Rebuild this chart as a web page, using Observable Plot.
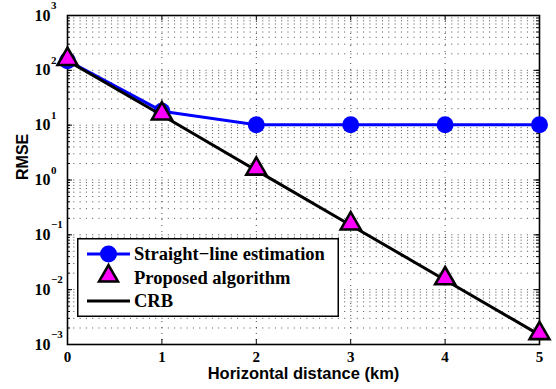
<!DOCTYPE html>
<html><head><meta charset="utf-8">
<script src="https://cdn.jsdelivr.net/npm/d3@7"></script>
<script src="https://cdn.jsdelivr.net/npm/@observablehq/plot@0.6"></script>
<style>
body{margin:0;background:#fff}
#wrap{position:relative;width:556px;height:389px}
#legend{position:absolute;left:77px;top:238px}
.serif text{font-family:"Liberation Serif","Times New Roman",serif}
</style>
</head><body><div id="wrap"></div>
<script>
const distances = [0, 1, 2, 3, 4, 5];
const straightLine = [150, 18, 10.2, 10.2, 10.2, 10.2];
const proposed = [150, 15.2, 1.5, 0.15, 0.015, 0.0015];
const crb = [150, 15.2, 1.5, 0.15, 0.015, 0.0015];
const xTicks = [0, 1, 2, 3, 4, 5];
const yDecades = [-3, -2, -1, 0, 1, 2, 3];
const seriesNames = ["Straight\u2212line estimation", "Proposed algorithm", "CRB"];
const xTitle = "Horizontal distance (km)";
const yTitle = "RMSE";

const rows = distances.map((d, i) => ({x: d, s: straightLine[i], p: proposed[i], c: crb[i]}));
const minor = [];
for (const d of yDecades.slice(0, -1)) for (let k = 1; k <= 9; k++) minor.push(k * 10 ** d);
minor.push(10 ** yDecades[yDecades.length - 1]);
const majors = yDecades.map(d => 10 ** d);
const serif = "Liberation Serif";
const sans = "Liberation Sans";
const tl = 0.053, tm = 0.032; // tick lengths in x units
const tf = 1.234; // tick length factor in y (log)

const plot = Plot.plot({
  width: 556, height: 389,
  marginLeft: 67, marginRight: 17, marginTop: 15, marginBottom: 45,
  x: {domain: [0, 5], axis: null},
  y: {type: "log", domain: [1e-3, 1e3], axis: null},
  style: {background: "white", fontFamily: serif},
  marks: [
    Plot.ruleY(minor, {y: d => d, stroke: "#000", strokeOpacity: 0.7, strokeDasharray: "1,5.3", strokeWidth: 1}),
    Plot.ruleX(xTicks.slice(1, -1), {x: d => d, stroke: "#000", strokeOpacity: 0.7, strokeDasharray: "1,5", strokeWidth: 1}),
    Plot.ruleY(minor, {y: d => d, x1: 0, x2: tm, stroke: "#000"}),
    Plot.ruleY(minor, {y: d => d, x1: 5 - tm, x2: 5, stroke: "#000"}),
    Plot.ruleY(majors, {y: d => d, x1: 0, x2: tl, stroke: "#000"}),
    Plot.ruleY(majors, {y: d => d, x1: 5 - tl, x2: 5, stroke: "#000"}),
    Plot.ruleX(xTicks, {x: d => d, y1: 1e-3, y2: 1e-3 * tf, stroke: "#000"}),
    Plot.ruleX(xTicks, {x: d => d, y1: 1e3 / tf, y2: 1e3, stroke: "#000"}),
    Plot.frame({stroke: "#000", strokeWidth: 1.6}),
    Plot.text(yDecades, {x: 0, y: d => 10 ** d, text: () => "10", textAnchor: "end", dx: -17, fontSize: 16, fontWeight: "bold", fontFamily: serif, fill: "#000", className: "serif"}),
    Plot.text(yDecades, {x: 0, y: d => 10 ** d, text: d => d < 0 ? "\u2212" + (-d) : String(d), textAnchor: "start", dx: -16.5, dy: -10, fontSize: 11, fontWeight: "bold", fontFamily: serif, fill: "#000", className: "serif"}),
    Plot.text(xTicks, {x: d => d, y: 1e-3, text: d => String(d), dy: 13, fontSize: 15, fontWeight: "bold", fontFamily: serif, fill: "#000", className: "serif"}),
    Plot.text([xTitle], {frameAnchor: "bottom", dy: 34.5, text: d => d, fontSize: 16.5, fontWeight: "bold", fontFamily: sans, fill: "#000"}),
    Plot.text([yTitle], {frameAnchor: "left", dx: -45, rotate: -90, text: d => d, fontSize: 16, fontWeight: "bold", fontFamily: sans, fill: "#000"}),
    Plot.line(rows, {x: "x", y: "s", stroke: "#0000ff", strokeWidth: 3}),
    Plot.dot(rows, {x: "x", y: "s", r: 8.5, fill: "#0000ff", stroke: "none"}),
    Plot.line(rows, {x: "x", y: "c", stroke: "#000", strokeWidth: 3}),
    Plot.dot(rows, {x: "x", y: "p", symbol: "triangle", r: 7.4, fill: "#ff00ff", stroke: "#000", strokeWidth: 2.6, dy: -1.5})
  ]
});
const wrap = document.getElementById("wrap");
wrap.appendChild(plot);

// legend
const W = 262, H = 79;
const lg = d3.create("svg").attr("id", "legend").attr("width", W).attr("height", H)
  .style("font-family", "'Liberation Serif'");
lg.append("rect").attr("x", 0.75).attr("y", 0.75).attr("width", W - 1.5).attr("height", H - 1.5)
  .attr("fill", "#fff").attr("stroke", "#000").attr("stroke-width", 1.5);
const ry = [16, 39.5, 63];
lg.append("line").attr("x1", 10).attr("x2", 53).attr("y1", ry[0]).attr("y2", ry[0]).attr("stroke", "#0000ff").attr("stroke-width", 3);
lg.append("circle").attr("cx", 31.5).attr("cy", ry[0]).attr("r", 8.5).attr("fill", "#0000ff");
lg.append("path").attr("d", d3.symbol(d3.symbolTriangle, Math.PI * 7 * 7)()).attr("transform", `translate(31.5,${ry[1] - 1.5})`)
  .attr("fill", "#ff00ff").attr("stroke", "#000").attr("stroke-width", 2.6);
lg.append("line").attr("x1", 10).attr("x2", 53).attr("y1", ry[2]).attr("y2", ry[2]).attr("stroke", "#000").attr("stroke-width", 3);
seriesNames.forEach((n, i) => {
  lg.append("text").attr("x", 57).attr("y", ry[i]).attr("dy", "0.35em").attr("font-size", 18.5).attr("font-weight", "bold").attr("fill", "#000").text(n);
});
wrap.appendChild(lg.node());
</script>
</body></html>
